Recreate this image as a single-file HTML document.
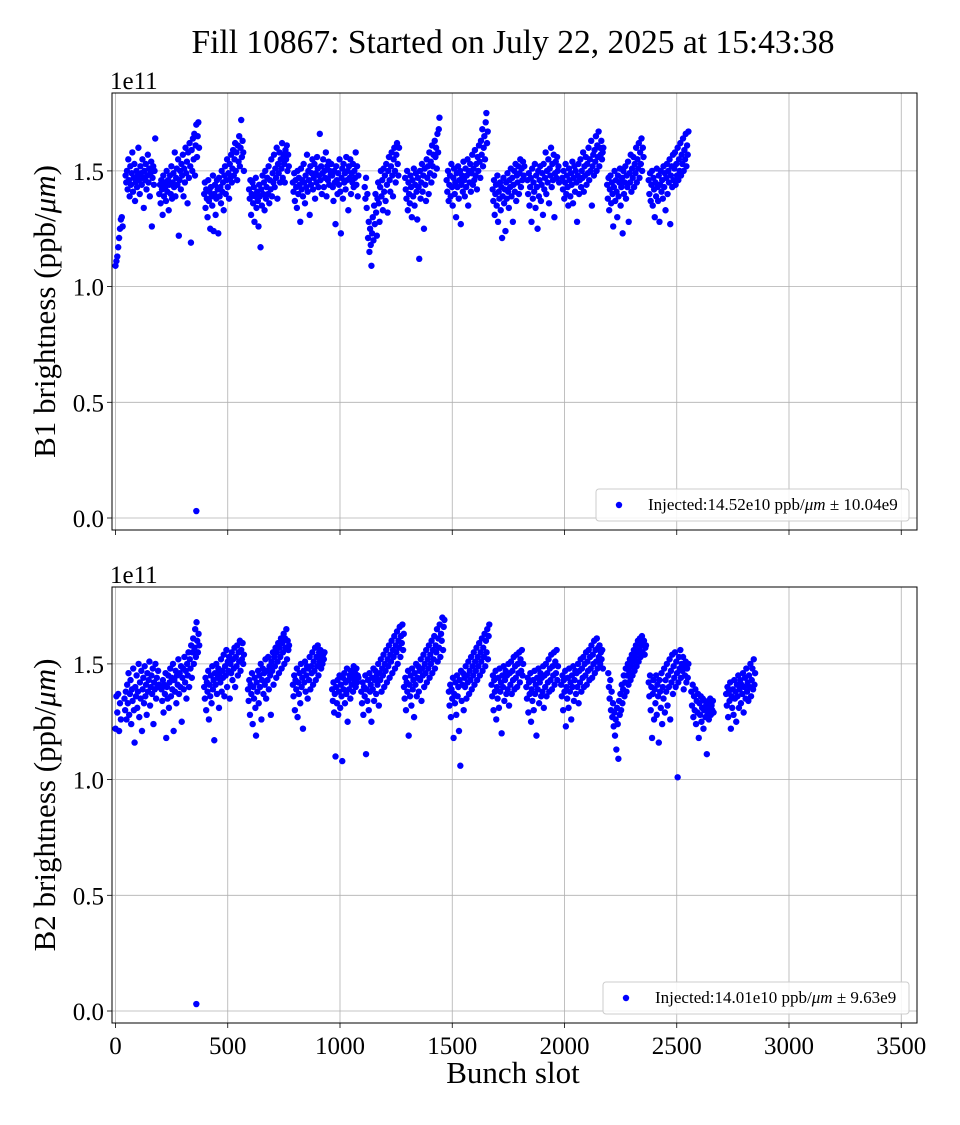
<!DOCTYPE html>
<html><head><meta charset="utf-8"><style>
html,body{margin:0;padding:0;background:#fff;}
svg text{font-family:"Liberation Serif","DejaVu Serif",serif;fill:#000;}
</style></head><body>
<svg id="chart" width="960" height="1120" xmlns="http://www.w3.org/2000/svg">
<text x="513" y="53" font-size="33.5" text-anchor="middle">Fill 10867: Started on July 22, 2025 at 15:43:38</text>
</svg>
<script>
const xTicks=[0,500,1000,1500,2000,2500,3000,3500];
const yTicks=[0,0.5,1.0,1.5];
const yTickLabels=["0.0","0.5","1.0","1.5"];
const b1Starts=[0,45,195,395,595,790,965,1110,1290,1475,1680,1835,1990,2190,2375,360];
const b1Steps=[4,3,3,3,3,3,3,3,3,3,3,3,3,3,3,1];
const b1Values=[
[109,111,113,117,121,125,129,130,126],
[148,145,150,142,155,146,139,152,144,149,158,141,147,153,137,145,150,143,148,160,146,140,152,149,144,155,147,134,150,146,153,142,148,157,145,151,139,149,154,126,147,152,144,150,164],
[140,144,136,146,142,131,148,139,145,143,137,150,141,146,133,144,148,140,152,138,145,149,143,158,139,147,151,144,155,122,146,150,142,153,148,157,139,151,145,160,149,154,136,158,147,162,152,119,159,150,164,155,166,148,161,170,156,165,171,160],
[140,145,134,142,138,130,146,137,141,125,143,139,135,148,124,140,144,131,138,146,142,123,147,139,143,136,150,141,145,133,148,152,140,146,155,143,149,138,153,147,157,145,151,159,148,155,162,150,158,146,161,154,165,152,160,172,156,163,158,150],
[142,138,146,131,140,145,136,143,128,139,147,134,141,137,126,144,139,117,142,135,148,140,145,133,150,138,143,147,140,152,136,146,142,155,139,149,145,157,143,151,147,160,138,153,149,158,145,155,151,162,147,157,153,145,159,155,161,150,157,152],
[145,141,149,137,146,143,134,150,140,147,144,128,151,142,146,139,153,145,136,148,143,157,141,150,146,131,152,144,149,155,142,147,153,138,149,145,156,151,143,148,166,146,152,140,149,155,143,150,147,158,139,152,146,154,144,150,148,153],
[148,143,137,150,145,127,152,146,140,149,144,155,141,123,147,151,138,153,145,149,142,156,146,150,133,152,147,155,140,149,145,153,143,150,147,158,144,152,139,148],
[143,138,147,134,140,121,128,115,125,118,109,123,130,120,135,127,140,132,122,138,145,136,128,143,150,139,146,133,151,141,148,137,153,144,132,150,156,146,141,152,158,148,139,155,160,150,145,157,162,153,148,160],
[147,142,138,150,133,145,140,136,148,143,130,146,139,151,135,144,149,141,129,147,143,112,150,138,145,153,141,148,125,151,144,137,155,147,152,140,158,149,154,145,161,152,157,148,163,156,160,151,166,158,168,173],
[146,141,150,137,144,148,139,153,143,135,147,151,140,145,130,149,143,152,138,146,150,127,144,148,141,154,146,139,151,143,148,155,135,150,145,153,141,149,157,144,151,146,159,148,153,142,156,150,161,154,147,163,157,168,152,160,165,155,171,175,162,167],
[142,137,146,131,140,144,135,148,128,141,138,145,133,143,121,139,147,136,142,124,145,138,149,141,134,146,143,151,139,147,128,144,150,141,153,137,148,145,152,140,149,155,143,151,146,154,148,152],
[146,140,149,135,143,147,128,151,138,145,141,153,134,148,143,125,150,139,146,152,137,144,149,131,153,142,147,158,140,150,145,155,136,151,148,160,143,153,146,157,130,149,154,147,156,150,152,145],
[147,142,150,138,145,153,140,148,143,135,151,146,139,149,144,154,136,147,152,141,150,145,128,148,153,140,146,155,143,150,147,158,141,152,148,156,144,153,149,160,146,155,150,163,135,152,157,148,159,154,165,150,161,156,167,152,160,157,163,155,158,160],
[144,138,147,133,142,148,136,145,140,126,143,150,137,146,141,130,148,139,145,151,135,143,147,123,150,140,145,152,138,148,143,154,128,149,145,157,141,151,147,156,143,153,149,160,145,155,151,162,147,158,153,164,150,160,156],
[146,140,149,137,144,150,135,147,142,130,145,139,151,143,137,148,128,144,150,141,146,138,152,143,149,133,147,153,140,150,145,155,127,148,152,143,157,146,151,158,144,153,148,160,146,155,150,162,148,157,153,164,150,159,155,166,152,161,157,167],
[3]
];
const b2Starts=[0,40,205,395,590,790,965,1095,1285,1485,1675,1830,1985,2195,2375,2565,2720,360];
const b2Steps=[4,3,3,3,3,3,3,3,3,3,3,3,3,3,3,3,3,1];
const b2Values=[
[122,136,129,137,121,133,126],
[135,130,138,126,141,133,146,128,137,143,124,139,134,148,130,116,140,136,145,131,138,150,127,142,135,147,121,139,144,133,149,136,141,128,146,138,143,151,132,140,145,137,148,124,142,139,150,135,144,140,147,141],
[139,134,143,129,141,137,146,118,140,135,145,131,142,148,136,144,139,150,121,143,138,147,133,145,141,152,137,146,140,149,125,144,148,139,153,142,147,135,150,145,155,140,152,148,158,144,155,161,150,157,165,153,168,160,155,163,158],
[140,135,144,130,142,138,147,126,141,136,145,133,149,139,143,117,146,141,150,137,144,148,131,146,142,152,138,147,144,154,136,149,145,156,140,151,147,153,135,150,146,155,143,152,148,157,140,153,149,158,145,155,151,160,147,156,152,159,150,154],
[139,134,143,128,141,137,146,124,140,135,144,131,119,142,138,147,133,145,140,150,126,143,148,137,146,141,152,135,147,143,153,139,149,145,128,151,147,155,141,153,149,157,144,155,151,159,146,157,153,161,148,159,155,163,150,161,157,165,152,160,156,158],
[141,136,145,130,143,139,148,127,142,137,146,133,150,140,144,122,147,142,151,138,145,149,135,148,143,153,139,149,146,155,141,151,147,157,143,153,149,158,145,155,151,156,148,153,150,154,152,155],
[139,134,142,129,137,110,140,133,143,128,138,145,131,141,136,108,144,139,146,133,142,137,148,125,143,139,145,135,147,141,144,138,149,143,146,140,148,142,145,144],
[138,133,142,128,140,136,145,111,139,134,143,130,146,138,141,125,144,139,148,134,143,147,137,145,141,150,132,146,143,152,138,148,145,154,140,150,147,156,142,152,149,158,144,154,151,160,146,156,153,162,148,158,155,164,150,160,157,166,153,162,159,167,156,163],
[140,135,144,130,142,138,147,119,141,136,145,132,148,139,143,127,146,141,150,136,144,149,138,147,143,152,134,148,145,154,140,150,146,156,142,152,148,158,144,154,150,160,146,156,152,162,148,158,155,165,151,161,157,167,153,163,160,170,156,166,169],
[138,132,141,127,139,135,144,118,137,133,142,128,145,136,140,121,143,106,147,134,141,146,130,144,140,149,135,145,142,151,137,147,143,153,139,149,145,155,141,151,147,157,143,153,149,159,145,155,151,161,147,157,153,163,149,160,155,165,152,162,167],
[141,136,145,130,143,138,147,126,140,135,144,131,148,138,142,120,145,140,149,134,143,147,137,145,139,150,132,146,141,151,137,147,143,153,139,149,144,154,140,150,146,155,142,152,147,156,145,150],
[140,135,144,129,142,137,146,125,139,134,143,130,147,137,141,119,144,139,148,133,142,146,136,144,138,149,131,145,140,150,136,146,142,152,138,148,143,154,139,149,145,155,141,151,146,156,143,149],
[141,136,145,130,143,138,147,123,140,135,144,131,148,138,142,126,145,140,149,134,143,147,137,146,140,150,133,147,142,152,138,148,144,153,140,150,145,155,141,151,147,156,143,153,148,158,144,154,150,160,146,156,151,161,148,157,153,158,150,155,152,156,148],
[146,140,135,143,130,138,127,133,123,129,119,126,113,131,124,109,134,128,137,130,141,133,139,145,136,142,148,138,145,150,141,147,152,143,149,154,145,151,156,147,153,158,149,155,160,151,156,161,153,158,162,155,159,160,154,157,158],
[142,136,145,130,140,118,137,143,126,139,133,145,128,141,136,116,143,138,131,146,124,140,135,148,129,143,138,150,132,145,140,152,126,147,142,154,137,149,144,155,140,151,146,101,142,153,148,156,144,150,147,153,139,149,145,151,142,148,144,150],
[138,132,141,127,136,130,139,124,134,129,137,118,133,128,136,125,131,135,122,130,134,127,132,111,129,133,126,131,135,128,132,130,134,129],
[137,132,140,127,138,134,142,122,136,131,139,128,143,135,138,125,141,136,145,131,139,143,133,141,137,146,129,140,144,135,148,138,142,134,145,140,150,136,143,148,139,152,141,146],
[3]
];
const legend1="Injected:14.52e10 ppb/";
const legend1b=" \u00b1 10.04e9";
const legend2="Injected:14.01e10 ppb/";
const legend2b=" \u00b1 9.63e9";

const NS="http://www.w3.org/2000/svg";
const svg=document.getElementById('chart');
const L=112,R=917;
function xs(v){return 115.5+v*0.2245;}
function mk(tag,attrs,parent){const e=document.createElementNS(NS,tag);for(const k in attrs)e.setAttribute(k,attrs[k]);(parent||svg).appendChild(e);return e;}

function panel(id,top,bottom,y0px,pxPerUnit,starts,steps,values,showX,ylab,leg,legb,legX){
  const g=mk('g',{});
  
  
  const ys=v=>y0px-v*pxPerUnit;
  xTicks.forEach(t=>{const l=mk('line',{x1:xs(t),x2:xs(t),y1:top,y2:bottom,stroke:'#b0b0b0','stroke-width':0.8},g);
    
    const tk=mk('line',{x1:xs(t),x2:xs(t),y1:bottom,y2:bottom+5,stroke:'#000','stroke-width':0.8},g);
    
    if(showX){const tx=mk('text',{x:xs(t),y:bottom+31,'font-size':25,'text-anchor':'middle'},g);tx.textContent=t;
      }
  });
  yTicks.forEach((t,i)=>{const y=ys(t);
    const l=mk('line',{x1:L,x2:R,y1:y,y2:y,stroke:'#b0b0b0','stroke-width':0.8},g);
    
    const tk=mk('line',{x1:L-5,x2:L,y1:y,y2:y,stroke:'#000','stroke-width':0.8},g);
    
    const tx=mk('text',{x:L-8,y:y+9,'font-size':25,'text-anchor':'end'},g);tx.textContent=yTickLabels[i];
    
  });
  starts.forEach((s,ti)=>{values[ti].forEach((v,i)=>{
    const c=mk('circle',{cx:xs(s+i*steps[ti]),cy:ys(v*1e9/1e11),r:3.2,fill:'#0000ff'},g);
    
    
  });});
  const fr=mk('rect',{x:L,y:top,width:R-L,height:bottom-top,fill:'none',stroke:'#000','stroke-width':1},g);
  
  const off=mk('text',{x:L-2,y:top-4,'font-size':25},g);off.textContent='1e11';
  
  const cy=(top+bottom)/2;
  const yl=mk('text',{x:0,y:0,'font-size':31,'text-anchor':'middle',transform:`translate(55,${cy}) rotate(-90)`},g);
  yl.innerHTML=ylab+' (ppb/<tspan font-style="italic">\u03bcm</tspan>)';
  
  const lg=mk('g',{},g);
  
  mk('rect',{x:legX,y:bottom-41,width:909-legX,height:32,rx:3,fill:'#fff','fill-opacity':0.85,stroke:'#cccccc','stroke-width':1},lg);
  const ld=mk('circle',{cx:legX+23,cy:bottom-25,r:3.2,fill:'#0000ff'},lg);
  
  const lt=mk('text',{x:legX+52,y:bottom-20,'font-size':17},lg);
  lt.innerHTML=leg+'<tspan font-style="italic">\u03bcm</tspan>'+legb;
  
}
panel('b1',93,530,518,231.4,b1Starts,b1Steps,b1Values,false,'B1 brightness',legend1,legend1b,596);
panel('b2',587,1023,1011,231.4,b2Starts,b2Steps,b2Values,true,'B2 brightness',legend2,legend2b,603);
const xl=mk('text',{x:513,y:1083,'font-size':31,'text-anchor':'middle'});
xl.textContent='Bunch slot';


</script>
</body></html>
